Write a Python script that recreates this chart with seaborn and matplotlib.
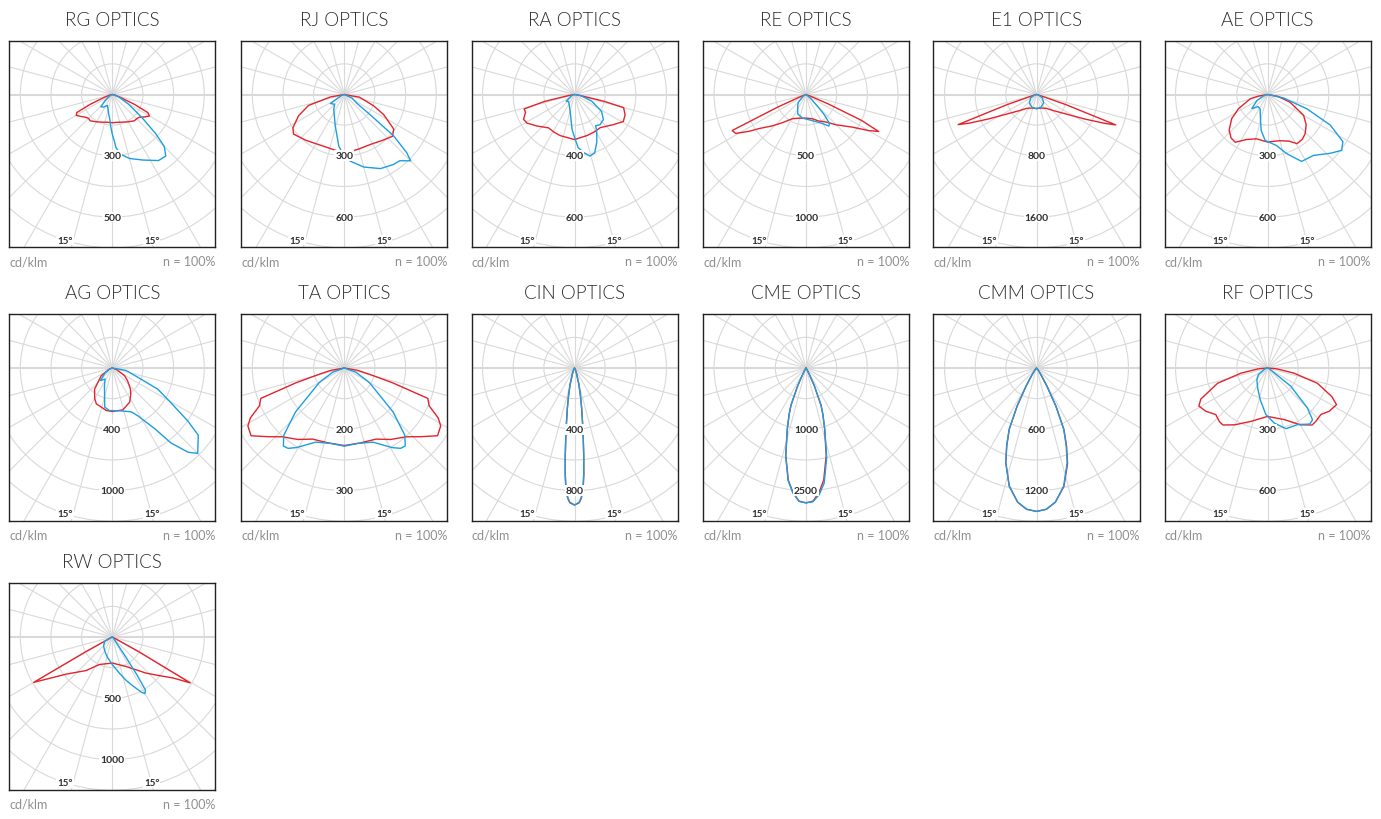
import numpy as np
import matplotlib
matplotlib.use('Agg')
import matplotlib.pyplot as plt
from matplotlib.patches import Circle
import seaborn as sns

# Photometric curves: angle from nadir in degrees (negative = left side),
# intensity expressed in grid rings (ring 2 / ring 4 carry the printed labels).

rg_red_ang = [-90, -80, -70, -66, -63, -60, -55, -50, -45, -40, -30, -20, -10, 0, 10, 20, 30, 40, 45, 50, 55, 60, 63, 66, 70, 80, 90]
rg_red = [0, 0.08, 0.3, 0.8, 1.3, 1.36, 1.25, 1.15, 1.1, 1.12, 1.03, 0.96, 0.92, 0.92, 0.92, 0.96, 1.03, 1.12, 1.12, 1.15, 1.28, 1.4, 1.3, 0.8, 0.3, 0.08, 0]
rg_blue_ang = [-90, -60, -50, -43, -35, -24, -10, -5, -3, 0, 2, 4, 8, 15, 25, 35, 41, 45, 48, 52, 59, 71, 90]
rg_blue = [0, 0.1, 0.3, 0.55, 0.5, 0.39, 0.66, 0.85, 1.03, 1.3, 1.47, 1.74, 1.97, 2.16, 2.36, 2.63, 2.66, 2.4, 1.9, 1.24, 0.63, 0.23, 0]

rj_red_ang = [-90, -80, -73, -65, -57, -52, -40, -28, -15, 0, 15, 28, 40, 49, 55, 63, 69, 80, 90]
rj_red = [0, 0.46, 1.22, 1.65, 2.0, 2.1, 1.95, 1.84, 1.82, 1.92, 1.84, 1.84, 1.95, 2.08, 1.97, 1.44, 1.02, 0.5, 0]
rj_blue_ang = [-90, -70, -57, -45, -35, -16, -6, -2, 5, 15, 26, 35, 40, 45, 47, 50, 52, 55, 66, 90]
rj_blue = [0, 0.1, 0.54, 0.45, 0.6, 1.07, 1.7, 1.9, 2.18, 2.45, 2.69, 2.79, 2.82, 3.06, 2.79, 2.1, 1.07, 0.5, 0.27, 0]

ra_red_ang = [-90, -80, -77, -74, -70, -64, -59, -50, -38, -28, -19, 0, 17, 28, 38, 52, 61, 68, 75, 77, 80, 90]
ra_red = [0, 0.2, 1.0, 1.71, 1.7, 1.85, 1.81, 1.6, 1.38, 1.4, 1.42, 1.47, 1.4, 1.38, 1.37, 1.6, 1.82, 1.78, 1.66, 1.0, 0.2, 0]
ra_blue_ang = [-90, -70, -51, -40, -25, -13, -4, 1, 4, 9, 14, 19, 25, 28, 32, 34, 40, 49, 58, 69, 80, 90]
ra_blue = [0, 0.1, 0.35, 0.3, 0.4, 0.61, 1.14, 1.47, 1.74, 1.92, 2.07, 2.02, 1.72, 1.55, 1.36, 1.23, 1.29, 1.25, 1.04, 0.6, 0.2, 0]

re_red_ang = [-90, -70, -66, -64, -61, -57, -54, -47, -40, -29, -15, 0, 15, 25, 36, 45, 55, 60, 63, 65, 67, 70, 90]
re_red = [0, 0.15, 1.0, 2.68, 2.62, 2.2, 1.89, 1.5, 1.2, 0.9, 0.8, 0.77, 0.82, 0.95, 1.11, 1.4, 1.86, 2.35, 2.66, 2.0, 0.8, 0.15, 0]
re_blue_ang = [-90, -60, -45, -37, -23, -8, 0, 14, 30, 36, 39, 42, 44, 50, 90]
re_blue = [0, 0.1, 0.35, 0.45, 0.69, 0.78, 0.8, 0.88, 1.1, 1.27, 1.22, 0.9, 0.6, 0.2, 0]

e1_red_ang = [-90, -75, -71, -69, -67, -63, -56, -46, -35, -20, 0, 20, 35, 46, 56, 63, 67, 69, 71, 75, 90]
e1_red = [0, 0.1, 1.0, 2.74, 2.4, 1.76, 1.12, 0.75, 0.55, 0.47, 0.45, 0.47, 0.55, 0.75, 1.12, 1.76, 2.4, 2.77, 1.0, 0.1, 0]
e1_blue_ang = [-90, -80, -60, -40, -20, 0, 20, 40, 60, 80, 90]
e1_blue = [0, 0.06, 0.22, 0.36, 0.44, 0.47, 0.44, 0.36, 0.22, 0.06, 0]

ae_red_ang = [-90, -80, -76, -64, -56, -47, -40, -34, -25, -14, 0, 15, 25, 31, 38, 44, 52, 60, 71, 80, 90]
ae_red = [0, 0.3, 0.58, 1.05, 1.41, 1.71, 1.85, 1.88, 1.62, 1.49, 1.55, 1.56, 1.68, 1.87, 1.85, 1.77, 1.6, 1.36, 0.78, 0.35, 0]
ae_blue_ang = [-90, -70, -60, -48, -38, -27, -15, -10, -3, 10, 18, 27, 37, 47, 53, 58, 64, 70, 78, 90]
ae_blue = [0, 0.15, 0.4, 0.69, 0.5, 0.53, 0.88, 1.19, 1.5, 1.69, 2.03, 2.45, 2.49, 2.81, 3.03, 2.9, 2.28, 1.37, 0.53, 0]

ag_red_ang = [-90, -70, -55, -40, -30, -24, -8, 0, 14, 27, 35, 41, 50, 58, 70, 90]
ag_red = [0, 0.1, 0.44, 0.9, 1.15, 1.28, 1.4, 1.42, 1.41, 1.25, 1.05, 0.9, 0.65, 0.47, 0.15, 0]
ag_blue_ang = [-90, -70, -55, -43, -33, -24, -11, -4, 10, 23, 28, 35, 38, 42, 45, 48, 52, 55, 60, 65, 70, 80, 90]
ag_blue = [0, 0.1, 0.3, 0.56, 0.43, 0.63, 1.3, 1.39, 1.42, 1.55, 1.76, 2.42, 3.1, 3.7, 3.94, 3.76, 3.56, 3.0, 2.14, 1.64, 0.89, 0.45, 0]

ta_red_ang = [-90, -80, -76, -73, -70, -66, -62, -59, -54, -48, -42, -33, -24, -12, 0, 12, 24, 33, 42, 48, 54, 59, 62, 66, 70, 73, 76, 80, 90]
ta_red = [0, 0.45, 0.84, 1.64, 2.9, 3.03, 3.47, 3.67, 3.76, 3.35, 3.02, 2.78, 2.54, 2.5, 2.53, 2.5, 2.54, 2.78, 3.02, 3.35, 3.76, 3.67, 3.47, 3.03, 2.9, 1.64, 0.84, 0.45, 0]
ta_blue_ang = [-90, -70, -60, -48, -42, -38, -35, -31, -21, -10, 0, 10, 21, 31, 35, 38, 42, 48, 60, 70, 90]
ta_blue = [0, 0.4, 0.94, 2.14, 2.95, 3.23, 3.2, 3.03, 2.59, 2.5, 2.55, 2.5, 2.59, 3.03, 3.2, 3.23, 2.95, 2.14, 0.94, 0.4, 0]

cin_ang = [-90, -30, -20, -15, -12, -10, -8, -7, -6, -5, -4, -3, -2, 0, 2, 3, 4, 5, 6, 7, 8, 10, 12, 15, 20, 30, 90]
cin_red = [0, 0.05, 0.2, 0.55, 0.95, 1.35, 1.95, 2.35, 2.9, 3.5, 4.0, 4.25, 4.4, 4.47, 4.4, 4.25, 4.0, 3.5, 2.9, 2.35, 1.95, 1.35, 0.95, 0.55, 0.2, 0.05, 0]
cin_blue = [0, 0.05, 0.2, 0.55, 0.95, 1.35, 1.95, 2.35, 2.88, 3.45, 3.95, 4.22, 4.38, 4.47, 4.38, 4.22, 3.95, 3.45, 2.88, 2.35, 1.95, 1.35, 0.95, 0.55, 0.2, 0.05, 0]

cme_ang = [-90, -35, -28, -25, -22, -20, -17, -13, -9, -6, -3, 0, 3, 6, 9, 13, 17, 20, 22, 25, 28, 35, 90]
cme_red = [0, 0.03, 0.2, 0.64, 1.3, 1.6, 2.08, 2.93, 3.7, 4.08, 4.35, 4.4, 4.35, 4.08, 3.7, 2.93, 2.08, 1.6, 1.3, 0.64, 0.2, 0.03, 0]
cme_blue = [0, 0.03, 0.2, 0.66, 1.32, 1.62, 2.1, 2.95, 3.72, 4.1, 4.36, 4.4, 4.37, 4.15, 3.8, 3.0, 2.1, 1.62, 1.32, 0.66, 0.2, 0.03, 0]

cmm_ang = [-90, -40, -33, -30, -27, -24, -21, -18, -13, -8, -4, 0, 4, 8, 13, 18, 21, 24, 27, 30, 33, 40, 90]
cmm_red = [0, 0.08, 0.3, 0.66, 1.38, 2.18, 2.7, 3.24, 3.95, 4.42, 4.62, 4.68, 4.62, 4.42, 3.97, 3.28, 2.74, 2.2, 1.4, 0.66, 0.3, 0.08, 0]
cmm_blue = [0, 0.08, 0.3, 0.67, 1.4, 2.2, 2.72, 3.25, 3.96, 4.42, 4.62, 4.68, 4.62, 4.42, 3.95, 3.24, 2.7, 2.18, 1.38, 0.66, 0.3, 0.08, 0]

rf_red_ang = [-90, -85, -79, -73, -65, -61, -55, -48, -42, -38, -30, -17, 0, 18, 30, 38, 42, 49, 55, 62, 66, 73, 79, 85, 90]
rf_red = [0, 0.3, 0.88, 1.7, 2.4, 2.56, 2.46, 2.27, 2.35, 2.36, 2.14, 1.82, 1.58, 1.77, 2.14, 2.36, 2.35, 2.31, 2.46, 2.55, 2.3, 1.7, 0.88, 0.3, 0]
rf_blue_ang = [-90, -70, -54, -42, -25, -13, -2, 7, 17, 28, 37, 41, 45, 49, 52, 54, 60, 75, 90]
rf_blue = [0, 0.1, 0.37, 0.52, 0.75, 1.06, 1.52, 1.81, 2.07, 2.09, 2.29, 2.24, 1.84, 1.2, 0.97, 0.3, 0.1, 0.03, 0]

rw_red_ang = [-90, -63, -61, -60, -57, -51, -38, -25, 0, 25, 43, 50, 56, 59.5, 61, 63, 90]
rw_red = [0, 0.05, 1.0, 2.96, 2.5, 1.92, 1.39, 0.99, 0.85, 1.06, 1.61, 1.95, 2.39, 2.95, 1.0, 0.05, 0]
rw_blue_ang = [-90, -70, -60, -45, -37, -25, -12, 0, 11, 18, 23, 28, 30, 32, 33, 34, 36, 45, 90]
rw_blue = [0, 0.05, 0.29, 0.4, 0.45, 0.55, 0.7, 0.9, 1.2, 1.5, 1.74, 2.05, 2.13, 2.04, 1.5, 0.8, 0.2, 0.05, 0]

titles = ['RG OPTICS', 'RJ OPTICS', 'RA OPTICS', 'RE OPTICS', 'E1 OPTICS', 'AE OPTICS',
          'AG OPTICS', 'TA OPTICS', 'CIN OPTICS', 'CME OPTICS', 'CMM OPTICS', 'RF OPTICS',
          'RW OPTICS']
ring2_labels = ['300', '300', '400', '500', '800', '300', '400', '200', '400', '1000', '600', '300', '500']
ring4_labels = ['500', '600', '600', '1000', '1600', '600', '1000', '300', '800', '2500', '1200', '600', '1000']

curves = [
    (rg_red_ang, rg_red, rg_blue_ang, rg_blue),
    (rj_red_ang, rj_red, rj_blue_ang, rj_blue),
    (ra_red_ang, ra_red, ra_blue_ang, ra_blue),
    (re_red_ang, re_red, re_blue_ang, re_blue),
    (e1_red_ang, e1_red, e1_blue_ang, e1_blue),
    (ae_red_ang, ae_red, ae_blue_ang, ae_blue),
    (ag_red_ang, ag_red, ag_blue_ang, ag_blue),
    (ta_red_ang, ta_red, ta_blue_ang, ta_blue),
    (cin_ang, cin_red, cin_ang, cin_blue),
    (cme_ang, cme_red, cme_ang, cme_blue),
    (cmm_ang, cmm_red, cmm_ang, cmm_blue),
    (rf_red_ang, rf_red, rf_blue_ang, rf_blue),
    (rw_red_ang, rw_red, rw_blue_ang, rw_blue),
]

RED = '#e4232b'
BLUE = '#1b9fe0'
GRID = '#d9d9d9'

sns.set_style('white')
plt.rcParams['font.family'] = ['Lato', 'DejaVu Sans']

W, H = 1381, 820
lefts = [9.3, 241.3, 471.5, 703, 933.5, 1164.5]
tops = [41.5, 315, 584]
bw, bh = 206, 206.5
px_ring = 30.65
top_off = 54


def polar_xy(ang, r):
    a = np.radians(np.asarray(ang, dtype=float))
    r = np.asarray(r, dtype=float)
    return r * np.sin(a), -r * np.cos(a)


fig = plt.figure(figsize=(W / 100, H / 100), dpi=100)

for i, title in enumerate(titles):
    row, col = divmod(i, 6)
    x0, y0 = lefts[col], tops[row]
    ax = fig.add_axes([x0 / W, 1 - (y0 + bh) / H, bw / W, bh / H])

    # polar grid
    for k in range(1, 8):
        ax.add_patch(Circle((0, 0), k, fill=False, ec=GRID, lw=0.8, zorder=1))
    for a in range(0, 360, 15):
        t = np.radians(a)
        lw = 1.5 if a in (90, 270) else 0.8
        ax.plot([0, 8 * np.sin(t)], [0, -8 * np.cos(t)], color=GRID, lw=lw, zorder=1)

    ra_, rv, ba, bv = curves[i]
    rx, ry = polar_xy(ra_, rv)
    bx, by = polar_xy(ba, bv)
    sns.lineplot(x=rx, y=ry, sort=False, estimator=None, color=RED, lw=1.0, ax=ax,
                 zorder=3, solid_joinstyle='round')
    sns.lineplot(x=bx, y=by, sort=False, estimator=None, color=BLUE, lw=1.0, ax=ax,
                 zorder=4, solid_joinstyle='round')

    lab_box = dict(facecolor='white', edgecolor='none', pad=0.6)
    for yv, txt in ((-2, ring2_labels[i]), (-4, ring4_labels[i])):
        ax.text(0, yv, txt, ha='center', va='center', fontsize=7.5, fontweight='bold',
                color='#2e2e2e', bbox=lab_box, zorder=5)
    ax.text(-1.54, -4.75, '15°', ha='center', va='center', fontsize=7,
            fontweight='bold', color='#2e2e2e', bbox=lab_box, zorder=5)
    ax.text(1.29, -4.75, '15°', ha='center', va='center', fontsize=7,
            fontweight='bold', color='#2e2e2e', bbox=lab_box, zorder=5)

    half_w = bw / 2 / px_ring
    ax.set_xlim(-half_w, half_w)
    ax.set_ylim(-(bh - top_off) / px_ring, top_off / px_ring)
    ax.set_xticks([])
    ax.set_yticks([])
    ax.set_xlabel('')
    ax.set_ylabel('')
    for s in ax.spines.values():
        s.set_color('#222222')
        s.set_linewidth(1.0)
        s.set_zorder(6)

    ax.text(0.5, 1 + 21.5 / bh, title, transform=ax.transAxes, ha='center', va='center',
            fontsize=13.5, fontweight=300, color='#2a2a2a')
    ax.text(0, -14.5 / bh, 'cd/klm', transform=ax.transAxes, ha='left', va='center',
            fontsize=9, color='#8f8f8f')
    ax.text(1, -14.5 / bh, 'n = 100%', transform=ax.transAxes, ha='right', va='center',
            fontsize=9, color='#8f8f8f')

fig.savefig('out.png', dpi=100, facecolor='white')
